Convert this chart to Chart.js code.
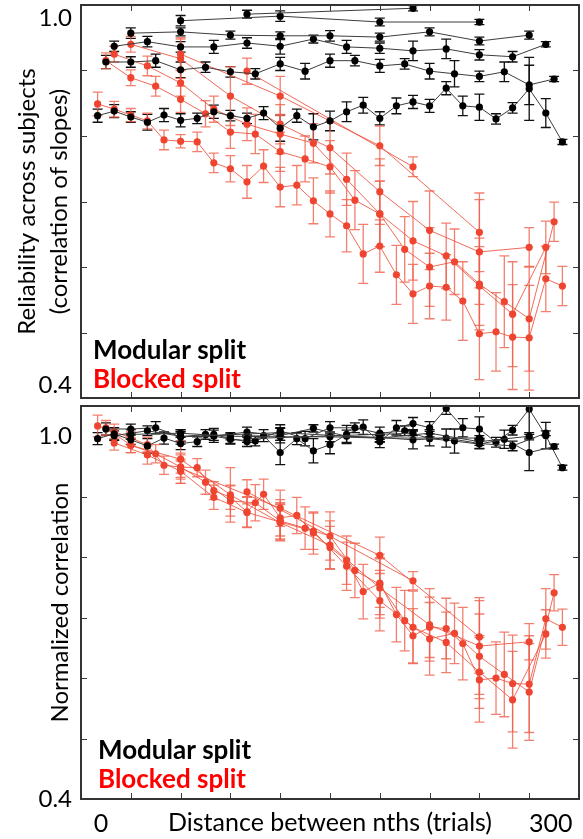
<!DOCTYPE html>
<html>
<head>
<meta charset="utf-8">
<script src="https://cdn.jsdelivr.net/npm/chart.js@4.4.1/dist/chart.umd.min.js"></script>
<style>
  html, body { margin:0; padding:0; background:#fff; }
  #wrap { position:relative; width:583px; height:839px; }
  #top { position:absolute; left:0; top:0; }
  #bottom { position:absolute; left:0; top:402px; }
</style>
</head>
<body>
<div id="wrap">
  <canvas id="top" width="583" height="402"></canvas>
  <canvas id="bottom" width="583" height="437"></canvas>
</div>
<script>
'use strict';

// distance between nths, in trials, for each number of splits n
var dist3  = [100, 200];
var dist5  = [60, 120, 180, 240];
var dist10 = [30, 60, 90, 120, 150, 180, 210, 240, 270];
var dist15 = [20, 40, 60, 80, 100, 120, 140, 160, 180, 200, 220, 240, 260, 280];
var dist20 = [15, 30, 45, 60, 75, 90, 105, 120, 135, 150, 165, 180, 195, 210, 225, 240, 255, 270, 285];
var dist30 = [10, 20, 30, 40, 50, 60, 70, 80, 90, 100, 110, 120, 130, 140, 150, 160, 170, 180, 190, 200, 210, 220, 230, 240, 250, 260, 270, 280, 290];

var xTicks = [0, 30, 60, 90, 120, 150, 180, 210, 240, 270, 300];
var yTicks = [0.4, 0.5, 0.6, 0.7, 0.8, 0.9, 1.0];

// top panel: reliability, modular split
var modRel3  = [0.986, 0.995];
var modRel5  = [0.976, 0.983, 0.974, 0.974];
var modRel10 = [0.957, 0.959, 0.954, 0.953, 0.953, 0.951, 0.959, 0.945, 0.954];
var modRel15 = [0.937, 0.944, 0.936, 0.936, 0.942, 0.937, 0.948, 0.936, 0.934, 0.930, 0.933, 0.924, 0.921, 0.940];
var modRel20 = [0.913, 0.913, 0.915, 0.901, 0.905, 0.898, 0.895, 0.910, 0.899, 0.915, 0.915, 0.907, 0.910, 0.899, 0.895, 0.891, 0.898, 0.878, 0.887];
var modRel30 = [0.831, 0.838, 0.829, 0.821, 0.832, 0.824, 0.827, 0.837, 0.831, 0.827, 0.835, 0.812, 0.831, 0.814, 0.823, 0.837, 0.847, 0.827, 0.846, 0.852, 0.846, 0.873, 0.846, 0.844, 0.826, 0.843, 0.872, 0.835, 0.791];

// top panel: reliability, blocked split
var blkRel3  = [0.899, 0.753];
var blkRel5  = [0.925, 0.861, 0.785, 0.653];
var blkRel10 = [0.940, 0.918, 0.861, 0.818, 0.782, 0.715, 0.656, 0.623, 0.630];
var blkRel15 = [0.925, 0.907, 0.881, 0.841, 0.818, 0.803, 0.789, 0.734, 0.681, 0.640, 0.617, 0.571, 0.528, 0.630];
var blkRel20 = [0.915, 0.889, 0.876, 0.856, 0.834, 0.806, 0.803, 0.776, 0.765, 0.753, 0.702, 0.681, 0.627, 0.600, 0.608, 0.574, 0.547, 0.521, 0.669];
var blkRel30 = [0.849, 0.841, 0.832, 0.823, 0.794, 0.792, 0.791, 0.759, 0.750, 0.730, 0.754, 0.722, 0.725, 0.701, 0.681, 0.663, 0.620, 0.632, 0.588, 0.559, 0.571, 0.569, 0.548, 0.498, 0.501, 0.493, 0.492, 0.582, 0.571];

// bottom panel: normalized correlation
var modNorm3  = [0.996, 1.005];
var modNorm5  = [0.999, 1.006, 0.997, 0.997];
var modNorm10 = [1.003, 1.005, 1.000, 0.999, 0.999, 0.997, 1.005, 0.991, 1.000];
var modNorm15 = [1.001, 1.009, 1.000, 1.000, 1.007, 1.001, 1.013, 1.000, 0.998, 0.994, 0.997, 0.988, 0.984, 1.005];
var modNorm20 = [1.012, 1.012, 1.014, 0.999, 1.003, 0.995, 0.992, 1.009, 0.996, 1.014, 1.014, 1.005, 1.009, 0.996, 0.992, 0.987, 0.995, 0.973, 0.983];
var modNorm30 = [0.996, 1.004, 0.994, 0.984, 0.997, 0.988, 0.991, 1.003, 0.996, 0.991, 1.001, 0.973, 0.996, 0.976, 0.986, 1.003, 1.015, 0.991, 1.014, 1.021, 1.014, 1.046, 1.014, 1.012, 0.990, 1.010, 1.045, 1.001, 0.948];

var blkNorm3  = [0.908, 0.761];
var blkNorm5  = [0.947, 0.881, 0.803, 0.668];
var blkNorm10 = [0.985, 0.962, 0.903, 0.857, 0.820, 0.749, 0.688, 0.653, 0.660];
var blkNorm15 = [0.989, 0.969, 0.942, 0.899, 0.874, 0.858, 0.843, 0.785, 0.728, 0.684, 0.659, 0.610, 0.564, 0.673];
var blkNorm20 = [1.014, 0.985, 0.971, 0.949, 0.924, 0.893, 0.890, 0.860, 0.848, 0.835, 0.778, 0.755, 0.695, 0.665, 0.674, 0.636, 0.606, 0.577, 0.741];
var blkNorm30 = [1.017, 1.008, 0.997, 0.986, 0.952, 0.949, 0.948, 0.910, 0.899, 0.875, 0.904, 0.865, 0.869, 0.840, 0.816, 0.795, 0.743, 0.757, 0.705, 0.670, 0.684, 0.682, 0.657, 0.597, 0.600, 0.591, 0.590, 0.698, 0.684];

// error bar half widths (used in both panels)
var modErr3  = [0.006, 0.004];
var modErr5  = [0.008, 0.008, 0.006, 0.004];
var modErr10 = [0.008, 0.006, 0.006, 0.006, 0.008, 0.006, 0.006, 0.006, 0.006];
var modErr15 = [0.008, 0.008, 0.008, 0.010, 0.008, 0.012, 0.006, 0.010, 0.008, 0.015, 0.015, 0.008, 0.008, 0.004];
var modErr20 = [0.010, 0.008, 0.010, 0.012, 0.008, 0.008, 0.008, 0.010, 0.012, 0.010, 0.008, 0.010, 0.008, 0.012, 0.020, 0.008, 0.015, 0.030, 0.004];
var modErr30 = [0.010, 0.010, 0.008, 0.012, 0.010, 0.010, 0.008, 0.010, 0.008, 0.008, 0.010, 0.020, 0.010, 0.020, 0.015, 0.015, 0.012, 0.010, 0.012, 0.010, 0.010, 0.010, 0.015, 0.020, 0.008, 0.008, 0.048, 0.022, 0.004];

var blkErr3  = [0.020, 0.015];
var blkErr5  = [0.025, 0.030, 0.030, 0.060];
var blkErr10 = [0.012, 0.030, 0.045, 0.030, 0.040, 0.050, 0.060, 0.080, 0.030];
var blkErr15 = [0.012, 0.015, 0.020, 0.020, 0.025, 0.030, 0.030, 0.040, 0.050, 0.060, 0.050, 0.060, 0.080, 0.040];
var blkErr20 = [0.012, 0.012, 0.015, 0.020, 0.020, 0.025, 0.030, 0.030, 0.035, 0.040, 0.045, 0.050, 0.050, 0.060, 0.050, 0.070, 0.070, 0.080, 0.030];
var blkErr30 = [0.018, 0.012, 0.010, 0.012, 0.015, 0.010, 0.015, 0.015, 0.020, 0.025, 0.025, 0.030, 0.030, 0.035, 0.035, 0.040, 0.045, 0.040, 0.045, 0.045, 0.050, 0.050, 0.060, 0.070, 0.060, 0.080, 0.080, 0.050, 0.030];

var FONT = 'Lato';
var BLK_LINE = '#3c3c3c', BLK_PT = '#000000', BLK_ERR = '#111111';
var RED_LINE = 'rgba(238,80,60,0.85)', RED_PT = '#ee4430', RED_ERR = 'rgba(240,95,75,0.8)';

let Figure = function(){

    var _sets = function(list){
        return list.map(function(s){
            return {
                data : s.x.map(function(d, i){ return {x : d, y : s.y[i]}; }),
                errors : s.e,
                errColor : s.red ? RED_ERR : BLK_ERR,
                borderColor : s.red ? RED_LINE : BLK_LINE,
                backgroundColor : s.red ? RED_PT : BLK_PT,
                pointBackgroundColor : s.red ? RED_PT : BLK_PT,
                pointBorderWidth : 0,
                pointRadius : 3.6,
                borderWidth : 1,
                tension : 0,
                clip : false
            };
        });
    };

    // error bars, frame, inward ticks and the split labels
    var decor = {
        id : 'panelDecor',
        beforeDatasetsDraw : function(chart){
            var ctx = chart.ctx, ys = chart.scales.y, a = chart.chartArea;
            ctx.save();
            ctx.beginPath();
            ctx.rect(a.left, a.top, a.right - a.left, a.bottom - a.top);
            ctx.clip();
            chart.data.datasets.forEach(function(ds, i){
                var meta = chart.getDatasetMeta(i);
                ctx.strokeStyle = ds.errColor;
                ctx.lineWidth = 1.3;
                meta.data.forEach(function(pt, j){
                    var e = ds.errors[j], v = ds.data[j].y;
                    var t = ys.getPixelForValue(v + e), b = ys.getPixelForValue(v - e);
                    ctx.beginPath();
                    ctx.moveTo(pt.x, t); ctx.lineTo(pt.x, b);
                    ctx.moveTo(pt.x - 5, t); ctx.lineTo(pt.x + 5, t);
                    ctx.moveTo(pt.x - 5, b); ctx.lineTo(pt.x + 5, b);
                    ctx.stroke();
                });
            });
            ctx.restore();
        },
        afterDraw : function(chart, args, opts){
            var ctx = chart.ctx, a = chart.chartArea, xs = chart.scales.x, ys = chart.scales.y;
            ctx.save();
            ctx.strokeStyle = '#3a3a3a';
            ctx.lineWidth = 1;
            ctx.beginPath();
            xs.ticks.forEach(function(t){
                if (t.value <= xs.min || t.value >= xs.max) return;
                var px = Math.round(xs.getPixelForValue(t.value)) + 0.5;
                ctx.moveTo(px, a.bottom); ctx.lineTo(px, a.bottom - 6);
                ctx.moveTo(px, a.top); ctx.lineTo(px, a.top + 6);
            });
            ys.ticks.forEach(function(t){
                if (t.value <= ys.min + 1e-9 || t.value >= 0.999) return;
                var py = Math.round(ys.getPixelForValue(t.value)) + 0.5;
                ctx.moveTo(a.left, py); ctx.lineTo(a.left + 6, py);
                ctx.moveTo(a.right, py); ctx.lineTo(a.right - 6, py);
            });
            ctx.stroke();
            ctx.lineWidth = 2;
            ctx.strokeStyle = '#333333';
            ctx.strokeRect(a.left, a.top, a.right - a.left, a.bottom - a.top);

            ctx.font = 'bold 26px ' + FONT;
            ctx.textBaseline = 'middle';
            ctx.textAlign = 'left';
            ctx.fillStyle = '#000000';
            ctx.fillText('Modular split', a.left + opts.dx, a.bottom + opts.dy1);
            ctx.fillStyle = '#ff0000';
            ctx.fillText('Blocked split', a.left + opts.dx, a.bottom + opts.dy2);
            ctx.restore();
        }
    };

    var _panel = function(id, series, cfg){
        var ctx = document.getElementById(id).getContext('2d');
        var config = {
            type : 'line',
            data : { datasets : _sets(series) },
            plugins : [decor],
            options : {
                responsive : false,
                animation : false,
                devicePixelRatio : 1,
                layout : { padding : { top : cfg.padTop, right : 3, left : 0, bottom : 0 } },
                plugins : {
                    legend : { display : false },
                    tooltip : { enabled : false },
                    panelDecor : cfg.legend
                },
                scales : {
                    x : {
                        type : 'linear', min : 0, max : 300,
                        grid : { display : false, drawTicks : false },
                        border : { display : false },
                        afterBuildTicks : function(s){ s.ticks = xTicks.map(function(v){ return {value : v}; }); },
                        ticks : {
                            display : cfg.xLabels,
                            autoSkip : false,
                            maxRotation : 0,
                            align : 'inner',
                            padding : 10,
                            color : '#000',
                            font : { family : FONT, size : 25 },
                            callback : function(v){ return v === 0 ? '  0' : (v === 300 ? '300 ' : ''); }
                        },
                        title : {
                            display : cfg.xLabels,
                            text : 'Distance between nths (trials)',
                            color : '#000',
                            font : { family : FONT, size : 25 },
                            padding : { top : 0, bottom : 1 }
                        },
                        afterFit : function(s){
                            s.height = cfg.xHeight;
                            s.paddingLeft = 0; s.paddingRight = 0;
                        }
                    },
                    y : {
                        min : 0.4, max : cfg.yMax,
                        grid : { display : false, drawTicks : false },
                        border : { display : false },
                        afterBuildTicks : function(s){ s.ticks = yTicks.map(function(v){ return {value : v}; }); },
                        ticks : {
                            autoSkip : false,
                            padding : 9,
                            color : '#000',
                            font : { family : FONT, size : 24, lineHeight : 1.1 },
                            callback : cfg.yLabel
                        },
                        title : {
                            display : true,
                            text : cfg.yTitle,
                            color : '#000',
                            font : { family : FONT, size : 24, lineHeight : 1.3 },
                            padding : { top : cfg.titlePad, bottom : 0 }
                        },
                        afterFit : function(s){
                            s.width = 81;
                            s.paddingTop = 0; s.paddingBottom = 0;
                        }
                    }
                }
            }
        };
        return new Chart(ctx, config);
    };

    return {
        init : function(){
            window.topPanel = _panel('top', [
                {x : dist3,  y : modRel3,  e : modErr3,  red : false},
                {x : dist5,  y : modRel5,  e : modErr5,  red : false},
                {x : dist10, y : modRel10, e : modErr10, red : false},
                {x : dist15, y : modRel15, e : modErr15, red : false},
                {x : dist20, y : modRel20, e : modErr20, red : false},
                {x : dist30, y : modRel30, e : modErr30, red : false},
                {x : dist3,  y : blkRel3,  e : blkErr3,  red : true},
                {x : dist5,  y : blkRel5,  e : blkErr5,  red : true},
                {x : dist10, y : blkRel10, e : blkErr10, red : true},
                {x : dist15, y : blkRel15, e : blkErr15, red : true},
                {x : dist20, y : blkRel20, e : blkErr20, red : true},
                {x : dist30, y : blkRel30, e : blkErr30, red : true}
            ], {
                padTop : 5, xLabels : false, xHeight : 4, yMax : 1.0,
                yTitle : ['Reliability across subjects', '(correlation of slopes)'],
                titlePad : 12,
                yLabel : function(v){
                    if (Math.abs(v - 1.0) < 1e-6) return ['', '1.0'];
                    if (Math.abs(v - 0.4) < 1e-6) return ['0.4', ''];
                    return '';
                },
                legend : { dx : 12, dy1 : -47, dy2 : -18 }
            });

            window.bottomPanel = _panel('bottom', [
                {x : dist3,  y : modNorm3,  e : modErr3,  red : false},
                {x : dist5,  y : modNorm5,  e : modErr5,  red : false},
                {x : dist10, y : modNorm10, e : modErr10, red : false},
                {x : dist15, y : modNorm15, e : modErr15, red : false},
                {x : dist20, y : modNorm20, e : modErr20, red : false},
                {x : dist30, y : modNorm30, e : modErr30, red : false},
                {x : dist3,  y : blkNorm3,  e : blkErr3,  red : true},
                {x : dist5,  y : blkNorm5,  e : blkErr5,  red : true},
                {x : dist10, y : blkNorm10, e : blkErr10, red : true},
                {x : dist15, y : blkNorm15, e : blkErr15, red : true},
                {x : dist20, y : blkNorm20, e : blkErr20, red : true},
                {x : dist30, y : blkNorm30, e : blkErr30, red : true}
            ], {
                padTop : 3, xLabels : true, xHeight : 40, yMax : 1.05,
                yTitle : 'Normalized correlation',
                titlePad : 45,
                yLabel : function(v){
                    if (Math.abs(v - 1.0) < 1e-6) return '1.0';
                    if (Math.abs(v - 0.4) < 1e-6) return '0.4';
                    return '';
                },
                legend : { dx : 17, dy1 : -48, dy2 : -19 }
            });
        }
    };

}();

document.addEventListener('DOMContentLoaded', function(){
    Figure.init();
});
</script>
</body>
</html>
